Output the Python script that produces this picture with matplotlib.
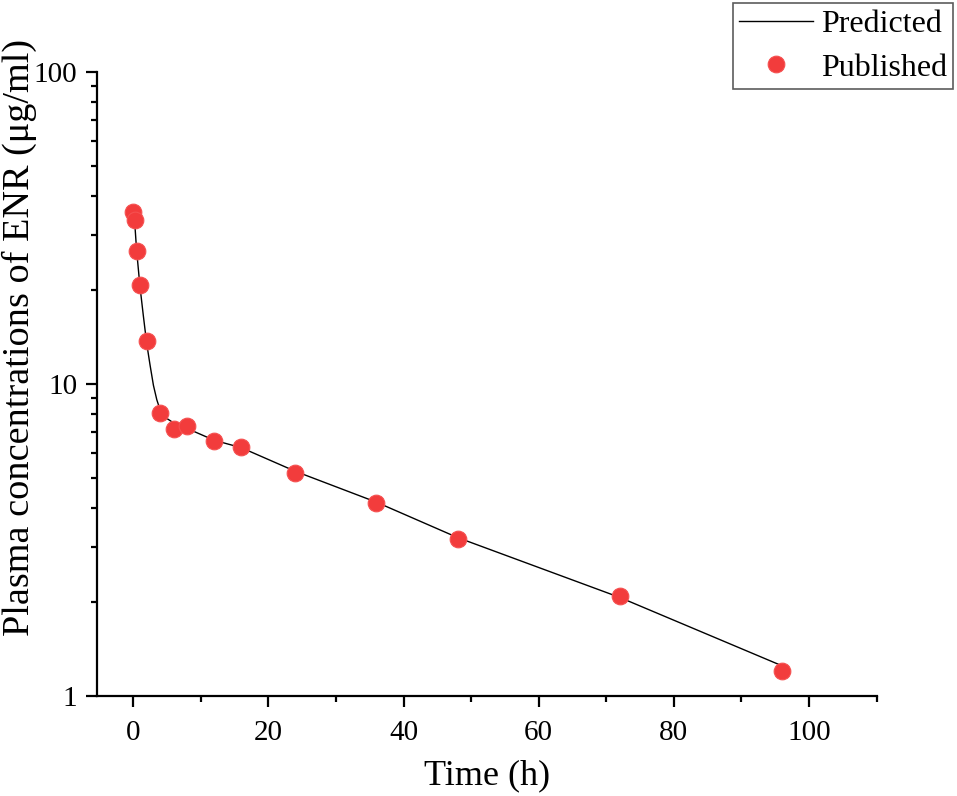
import numpy as np
import matplotlib
matplotlib.use('Agg')
import matplotlib.pyplot as plt
from matplotlib.ticker import LogLocator, FixedLocator, NullFormatter

plt.rcParams['font.family'] = ['Liberation Serif', 'DejaVu Serif']

# Tiempo (h) y concentraciones (ug/ml)
pred_time = [0, 0.25, 0.5, 1, 1.5, 2, 2.5, 3, 3.5, 4, 5, 6, 8, 12, 16, 24, 36, 48, 72, 96]
pred_conc = [34.5, 32.5, 27.0, 20.6, 16.6, 13.5, 11.5, 9.9, 8.9, 8.25, 7.75, 7.5, 7.2, 6.6, 6.25, 5.25, 4.18, 3.22, 2.07, 1.25]

pub_time = [0, 0.25, 0.5, 1, 2, 4, 6, 8, 12, 16, 24, 36, 48, 72, 96]
pub_conc = [35.6, 33.5, 26.7, 20.8, 13.7, 8.07, 7.17, 7.33, 6.56, 6.28, 5.19, 4.16, 3.19, 2.09, 1.20]

fig = plt.figure(figsize=(9.57, 7.96), dpi=100)
ax = fig.add_axes([0.101, 0.1256, 0.815, 0.784])

ax.plot(pred_time, pred_conc, color='black', lw=1.0, label='Predicted')
ax.plot(pub_time, pub_conc, 'o', color='#f23c3c', ms=12, mec='#f55050', mew=0.8,
        label='Published', clip_on=False)

ax.set_yscale('log')
ax.set_ylim(1, 100)
ax.set_xlim(-5.4, 110)
ax.yaxis.set_major_locator(FixedLocator([1, 10, 100]))
ax.set_yticklabels(['1', '10', '100'])
ax.yaxis.set_minor_locator(LogLocator(base=10, subs=np.arange(2, 10)))
ax.yaxis.set_minor_formatter(NullFormatter())
ax.xaxis.set_major_locator(FixedLocator([0, 20, 40, 60, 80, 100]))
ax.xaxis.set_minor_locator(FixedLocator([10, 30, 50, 70, 90, 110]))

for s in ['top', 'right']:
    ax.spines[s].set_visible(False)
for s in ['left', 'bottom']:
    ax.spines[s].set_linewidth(1.6)

ax.tick_params(which='major', direction='out', length=8, width=1.6, labelsize=21)
ax.tick_params(which='minor', direction='out', length=4, width=1.6)
ax.tick_params(axis='x', pad=9)
ax.tick_params(axis='y', pad=6)

ax.set_xlabel('Time (h)', fontsize=26, labelpad=10)
ax.set_ylabel('Plasma concentrations of ENR (μg/ml)', fontsize=27.5)
ax.yaxis.set_label_coords(-0.077, 0.574)

leg = ax.legend(loc='upper right', bbox_to_anchor=(0.996, 0.996), bbox_transform=fig.transFigure,
                fontsize=23, frameon=True, fancybox=False, edgecolor='#333333',
                handlelength=2.3, handletextpad=0.25, borderpad=0.2, labelspacing=0.45,
                borderaxespad=0)
leg.get_frame().set_linewidth(1.2)

plt.savefig('out.png', dpi=100)
